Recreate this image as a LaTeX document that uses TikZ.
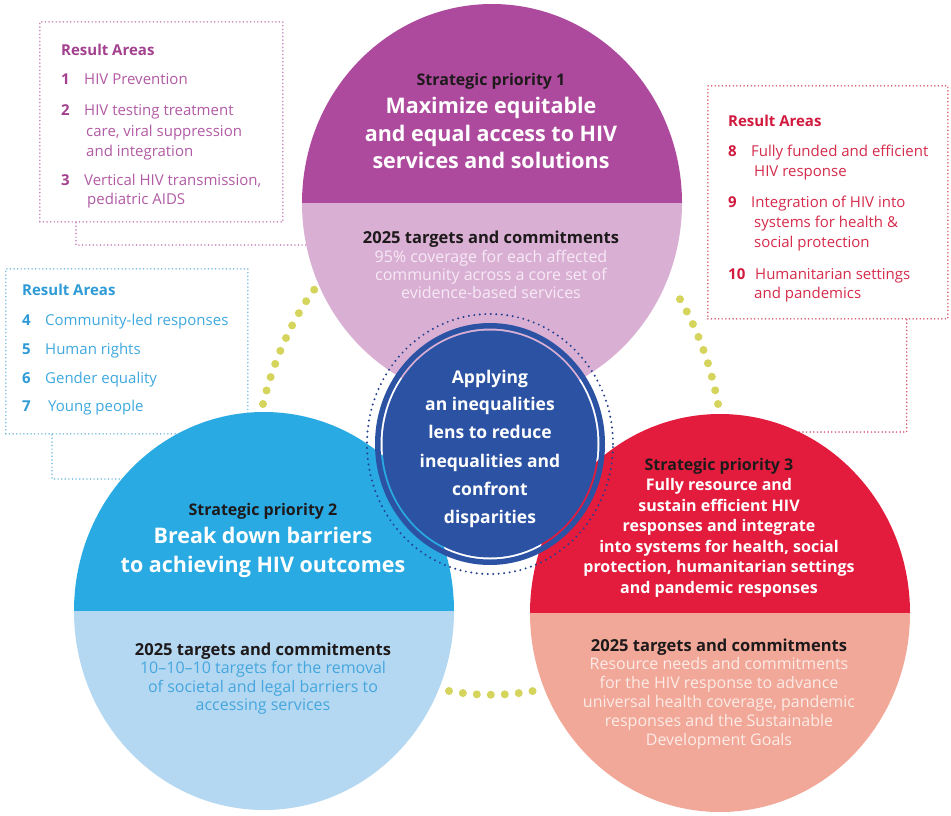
\documentclass[tikz,border=0pt]{standalone}
\usepackage{fontspec}
\setmainfont{Open Sans}
\definecolor{ink}{HTML}{1E1A1B}
\definecolor{pTop}{HTML}{AD4A9D}
\definecolor{pBot}{HTML}{D9B0D4}
\definecolor{bTop}{HTML}{2AAAE2}
\definecolor{bBot}{HTML}{B5D8F2}
\definecolor{rTop}{HTML}{E31C3D}
\definecolor{rBot}{HTML}{F2A898}
\definecolor{cBlue}{HTML}{2B52A3}
\definecolor{navy}{HTML}{23408E}
\definecolor{dotYel}{HTML}{D5D45C}
\definecolor{raP}{HTML}{A3418F}
\definecolor{raPi}{HTML}{B25BA5}
\definecolor{raPd}{HTML}{C47EB8}
\definecolor{raB}{HTML}{2E9BD6}
\definecolor{raBi}{HTML}{3FA9DF}
\definecolor{raBd}{HTML}{74BCE0}
\definecolor{raR}{HTML}{D11A3E}
\definecolor{raRi}{HTML}{D52C4C}
\definecolor{raRd}{HTML}{D65670}
\definecolor{bodyP}{HTML}{F7E9F5}
\definecolor{bodyB}{HTML}{45A6DD}
\definecolor{bodyR}{HTML}{FCEBE7}
\tikzset{
  ln/.style={anchor=base, inner sep=0pt},
  spri/.style={ln, font=\bfseries\fontsize{16}{18}\selectfont, text=ink},
  ttlA/.style={ln, font=\bfseries\fontsize{21.5}{26}\selectfont, text=white},
  ttlB/.style={ln, font=\bfseries\fontsize{16}{19}\selectfont, text=white},
  tgt/.style={ln, font=\bfseries\fontsize{16.5}{19}\selectfont, text=ink},
  bdy/.style={ln, font=\fontsize{16}{18}\selectfont},
  ctr/.style={ln, font=\bfseries\fontsize{17.5}{20}\selectfont, text=white},
  rah/.style={anchor=base west, inner sep=0pt, font=\bfseries\fontsize{15}{18}\selectfont},
  rai/.style={anchor=base west, inner sep=0pt, font=\fontsize{15}{18}\selectfont},
  rabox/.style={draw, fill=white, dash pattern=on 0pt off 3.6pt, line cap=round, line width=1.7pt, anchor=north west, inner sep=0pt},
  shline/.style={dash pattern=on 0pt off 3.6pt, line cap=round, line width=1.7pt},
  ydots/.style={draw=dotYel, dash pattern=on 0pt off 14pt, line cap=round, line width=8pt},
  ndots/.style={draw=navy, dash pattern=on 0pt off 5.5pt, line cap=round, line width=2.2pt},
}
\begin{document}
\begin{tikzpicture}[x=1pt, y=-1pt]
\useasboundingbox (0,0) rectangle (951,815);
\fill[white] (0,0) rectangle (951,815);

% yellow dotted links between the priorities
\draw[ydots] (263,404) .. controls (274,358) and (295,314) .. (317,286);
\draw[ydots] (718,404) .. controls (710,360) and (693,318) .. (673,288);
\draw[ydots] (449,691) .. controls (477,696) and (505,696) .. (533,691);

% result area boxes
\node[rabox, draw=raPd, minimum width=243pt, minimum height=200pt] (ra1) at (39,21) {};
\node[rabox, draw=raBd, minimum width=242pt, minimum height=165pt] (ra2) at (5,268) {};
\node[rabox, draw=raRd, minimum width=240pt, minimum height=233pt] (ra3) at (707,85) {};
\coordinate (sh1) at (400,245);
\coordinate (sh2) at (264,479);
\coordinate (sh3) at (720,432);
\draw[shline, draw=raPd] ([xshift=37pt]ra1.south west) |- (sh1);
\draw[shline, draw=raBd] ([xshift=47pt]ra2.south west) |- (sh2);
\draw[shline, draw=raRd] ([xshift=-42pt]ra3.south east) |- (sh3);

% box 1 text
\node[rah, text=raP] (ra1h) at (61,55) {Result Areas};
\node[rah, text=raP] (ra1n1) at (61,84) {1};
\node[rai, text=raPi] (ra1a) at (84,84) {HIV Prevention};
\node[rah, text=raP] (ra1n2) at (61,115) {2};
\node[rai, text=raPi] (ra1b1) at (84,115) {HIV testing treatment};
\node[rai, text=raPi] (ra1b2) at (86,136) {care, viral suppression};
\node[rai, text=raPi] (ra1b3) at (86,156) {and integration};
\node[rah, text=raP] (ra1n3) at (61,185) {3};
\node[rai, text=raPi] (ra1c1) at (84,185) {Vertical HIV transmission,};
\node[rai, text=raPi] (ra1c2) at (87,204) {pediatric AIDS};

% box 2 text
\node[rah, text=raB] (ra2h) at (22,295) {Result Areas};
\node[rah, text=raB] (ra2n4) at (22,325) {4};
\node[rai, text=raBi] (ra2a) at (45,325) {Community-led responses};
\node[rah, text=raB] (ra2n5) at (22,354) {5};
\node[rai, text=raBi] (ra2b) at (45,354) {Human rights};
\node[rah, text=raB] (ra2n6) at (22,383) {6};
\node[rai, text=raBi] (ra2c) at (45,383) {Gender equality};
\node[rah, text=raB] (ra2n7) at (22,411) {7};
\node[rai, text=raBi] (ra2d) at (48,411) {Young people};

% box 3 text
\node[rah, text=raR] (ra3h) at (728,126) {Result Areas};
\node[rah, text=raR] (ra3n8) at (728,156) {8};
\node[rai, text=raRi] (ra3a1) at (751,156) {Fully funded and efficient};
\node[rai, text=raRi] (ra3a2) at (754,176) {HIV response};
\node[rah, text=raR] (ra3n9) at (728,207) {9};
\node[rai, text=raRi] (ra3b1) at (751,207) {Integration of HIV into};
\node[rai, text=raRi] (ra3b2) at (754,227) {systems for health \&};
\node[rai, text=raRi] (ra3b3) at (754,247) {social protection};
\node[rah, text=raR] (ra3n10) at (728,279) {10};
\node[rai, text=raRi] (ra3c1) at (755,279) {Humanitarian settings};
\node[rai, text=raRi] (ra3c2) at (754,298) {and pandemics};

% priority circles
\begin{scope}
  \clip (492,203) ellipse [x radius=190pt, y radius=199pt];
  \fill[pTop] (290,0) rectangle (700,203);
  \fill[pBot] (290,203) rectangle (700,410);
\end{scope}
\begin{scope}
  \clip (264,611) ellipse [x radius=190pt, y radius=199pt];
  \fill[bTop] (60,400) rectangle (470,611);
  \fill[bBot] (60,611) rectangle (470,815);
\end{scope}
\begin{scope}
  \clip (720,613) ellipse [x radius=190pt, y radius=199pt];
  \fill[rTop] (520,400) rectangle (930,613);
  \fill[rBot] (520,613) rectangle (930,815);
\end{scope}

% circle 1 text
\node[spri] (s1) at (491,85) {Strategic priority 1};
\foreach \y/\t [count=\i] in {113/Maximize equitable, 141/and equal access to HIV, 168/services and solutions}
  \node[ttlA] (s1t\i) at (491,\y) {\t};
\node[tgt] (s1g) at (491,243) {2025 targets and commitments};
\foreach \y/\t [count=\i] in {262/95\% coverage for each affected, 280/community across a core set of, 298/evidence-based services}
  \node[bdy, text=bodyP] (s1b\i) at (491,\y) {\t};

% circle 2 text
\node[spri] (s2) at (263,515) {Strategic priority 2};
\foreach \y/\t [count=\i] in {543/Break down barriers, 572/to achieving HIV outcomes}
  \node[ttlA] (s2t\i) at (263,\y) {\t};
\node[tgt] (s2g) at (263,655) {2025 targets and commitments};
\foreach \y/\t [count=\i] in {673/10--10--10 targets for the removal, 692/of societal and legal barriers to, 710/accessing services}
  \node[bdy, text=bodyB] (s2b\i) at (263,\y) {\t};

% circle 3 text
\node[spri] (s3) at (719,470) {Strategic priority 3};
\foreach \y/\t [count=\i] in {490/Fully resource and, 511/sustain efficient HIV, 531/responses and integrate, 552/{into systems for health, social}, 572/{protection, humanitarian settings}, 593/and pandemic responses}
  \node[ttlB] (s3t\i) at (719,\y) {\t};
\node[tgt] (s3g) at (719,651) {2025 targets and commitments};
\foreach \y/\t [count=\i] in {669/Resource needs and commitments, 688/for the HIV response to advance, 707/{universal health coverage, pandemic}, 726/responses and the Sustainable, 745/Development Goals}
  \node[bdy, text=bodyR] (s3b\i) at (719,\y) {\t};

% centre disk
\fill[cBlue, even odd rule] (490,444) ellipse [x radius=115pt, y radius=121pt]
   (490,444) ellipse [x radius=109.5pt, y radius=115.5pt];
\fill[cBlue] (490,444) ellipse [x radius=107.5pt, y radius=113.5pt];
\draw[ndots] (490,444) ellipse [x radius=123pt, y radius=130pt];
\foreach \y/\t [count=\i] in {383/Applying, 410/an inequalities, 438/lens to reduce, 467/inequalities and, 495/confront, 523/disparities}
  \node[ctr] (ct\i) at (490,\y) {\t};
\end{tikzpicture}
\end{document}
